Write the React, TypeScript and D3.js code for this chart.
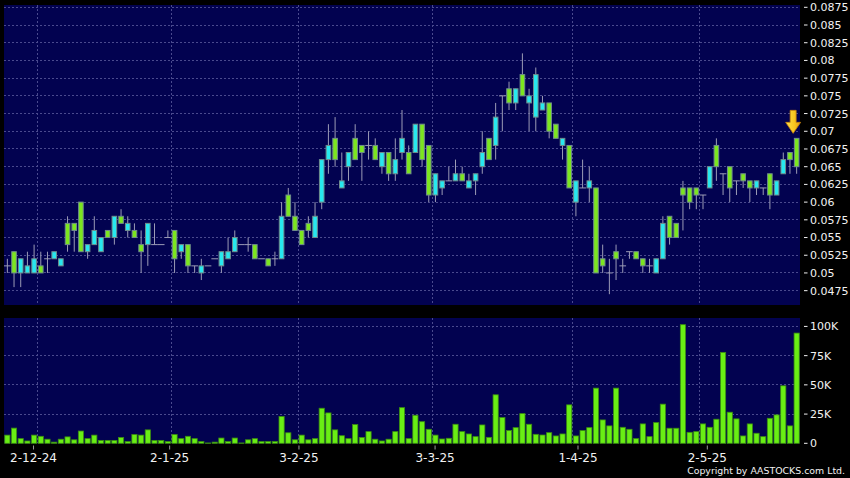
import React from "react";
import * as d3 from "d3";

// ---- data ----
const opens = [
  0.051, 0.053, 0.05, 0.05, 0.05, 0.051, 0.052, 0.052, 0.051, 0.057,
  0.057, 0.06, 0.053, 0.054, 0.053, 0.056, 0.055, 0.058, 0.056, 0.056,
  0.054, 0.054, 0.054, 0.054, 0.055, 0.056, 0.053, 0.054, 0.051, 0.05,
  0.051, 0.052, 0.051, 0.052, 0.053, 0.054, 0.054, 0.054, 0.052, 0.052,
  0.052, 0.052, 0.061, 0.058, 0.056, 0.057, 0.055, 0.06, 0.066, 0.069,
  0.062, 0.065, 0.069, 0.068, 0.068, 0.068, 0.065, 0.067, 0.064, 0.067,
  0.067, 0.067, 0.071, 0.068, 0.061, 0.062, 0.063, 0.063, 0.064, 0.062,
  0.063, 0.065, 0.069, 0.068, 0.075, 0.076, 0.074, 0.078, 0.074, 0.072,
  0.073, 0.074, 0.071, 0.068, 0.068, 0.06, 0.062, 0.062, 0.062, 0.052,
  0.05, 0.053, 0.051, 0.053, 0.053, 0.052, 0.051, 0.05, 0.052, 0.058,
  0.057, 0.062, 0.062, 0.062, 0.061, 0.062, 0.068, 0.064, 0.065, 0.063,
  0.064, 0.063, 0.062, 0.062, 0.064, 0.061, 0.064, 0.067, 0.069,
];
const highs = [
  0.052, 0.053, 0.052, 0.053, 0.054, 0.053, 0.053, 0.053, 0.052, 0.058,
  0.057, 0.06, 0.054, 0.058, 0.055, 0.056, 0.058, 0.059, 0.058, 0.057,
  0.056, 0.057, 0.057, 0.054, 0.056, 0.056, 0.054, 0.054, 0.051, 0.052,
  0.051, 0.052, 0.053, 0.055, 0.056, 0.054, 0.055, 0.054, 0.052, 0.052,
  0.053, 0.06, 0.062, 0.06, 0.056, 0.058, 0.06, 0.066, 0.071, 0.072,
  0.067, 0.067, 0.071, 0.068, 0.07, 0.069, 0.067, 0.067, 0.069, 0.073,
  0.068, 0.071, 0.071, 0.068, 0.064, 0.063, 0.065, 0.066, 0.065, 0.064,
  0.064, 0.07, 0.069, 0.074, 0.075, 0.077, 0.076, 0.081, 0.076, 0.079,
  0.075, 0.074, 0.071, 0.069, 0.068, 0.063, 0.066, 0.065, 0.062, 0.054,
  0.052, 0.054, 0.052, 0.053, 0.053, 0.052, 0.052, 0.052, 0.058, 0.058,
  0.057, 0.063, 0.062, 0.062, 0.061, 0.065, 0.069, 0.064, 0.065, 0.063,
  0.064, 0.063, 0.063, 0.062, 0.064, 0.063, 0.067, 0.067, 0.069,
];
const lows = [
  0.05, 0.048, 0.048, 0.05, 0.05, 0.05, 0.05, 0.052, 0.051, 0.053,
  0.053, 0.053, 0.052, 0.054, 0.053, 0.055, 0.054, 0.057, 0.055, 0.055,
  0.05, 0.051, 0.054, 0.054, 0.055, 0.05, 0.052, 0.05, 0.05, 0.049,
  0.051, 0.052, 0.05, 0.052, 0.053, 0.054, 0.053, 0.052, 0.052, 0.051,
  0.051, 0.052, 0.058, 0.056, 0.054, 0.055, 0.055, 0.059, 0.064, 0.065,
  0.062, 0.063, 0.066, 0.063, 0.066, 0.066, 0.064, 0.063, 0.063, 0.066,
  0.064, 0.067, 0.065, 0.06, 0.06, 0.061, 0.063, 0.063, 0.063, 0.062,
  0.061, 0.064, 0.066, 0.066, 0.07, 0.073, 0.073, 0.075, 0.07, 0.07,
  0.073, 0.069, 0.069, 0.066, 0.062, 0.058, 0.062, 0.06, 0.05, 0.05,
  0.047, 0.049, 0.05, 0.052, 0.052, 0.05, 0.05, 0.05, 0.052, 0.054,
  0.055, 0.056, 0.059, 0.059, 0.059, 0.062, 0.063, 0.061, 0.06, 0.061,
  0.062, 0.06, 0.061, 0.061, 0.059, 0.061, 0.064, 0.064, 0.064,
];
const closes = [
  0.051, 0.05, 0.052, 0.051, 0.052, 0.05, 0.052, 0.053, 0.052, 0.054,
  0.056, 0.053, 0.054, 0.056, 0.055, 0.055, 0.058, 0.057, 0.057, 0.055,
  0.053, 0.057, 0.054, 0.054, 0.055, 0.052, 0.054, 0.051, 0.051, 0.051,
  0.051, 0.052, 0.053, 0.053, 0.055, 0.054, 0.054, 0.052, 0.052, 0.051,
  0.052, 0.058, 0.058, 0.056, 0.054, 0.056, 0.058, 0.066, 0.068, 0.066,
  0.063, 0.067, 0.066, 0.067, 0.068, 0.066, 0.067, 0.064, 0.066, 0.069,
  0.064, 0.071, 0.066, 0.061, 0.064, 0.063, 0.063, 0.064, 0.063, 0.063,
  0.064, 0.067, 0.066, 0.072, 0.075, 0.074, 0.076, 0.075, 0.075, 0.078,
  0.074, 0.07, 0.069, 0.069, 0.062, 0.063, 0.062, 0.063, 0.05, 0.051,
  0.05, 0.052, 0.051, 0.053, 0.052, 0.051, 0.051, 0.052, 0.057, 0.055,
  0.055, 0.061, 0.06, 0.061, 0.061, 0.065, 0.065, 0.064, 0.062, 0.063,
  0.063, 0.062, 0.063, 0.062, 0.061, 0.063, 0.066, 0.066, 0.065,
];
// volume in thousands of shares
const volumesK = [
  7, 13, 4, 2, 7, 6, 3.5, 1, 3.5, 5.5,
  3, 10.5, 4, 7, 2.5, 2.5, 2.5, 5, 1.5, 7.5,
  7, 11.5, 2.5, 2.5, 1.5, 7.5, 4, 6, 4, 1.5,
  0.3, 1, 4.5, 1.5, 4.5, 0.3, 3, 4, 1.5, 1.5,
  1.5, 23, 9, 3, 7, 3, 4, 30, 26, 11.5,
  6.5, 4, 16, 5, 10, 3.5, 2, 3.5, 10, 30.5,
  4, 24, 18.5, 12, 7, 3.7, 4.3, 16.3, 10, 8,
  5.7, 15.7, 5.1, 41.5, 22, 10.9, 13.4, 25.4, 16.3, 7.7,
  7.1, 9.1, 6.3, 8, 32.9, 6.3, 10.9, 13.4, 47.2, 20,
  14.9, 47.2, 13.7, 12, 4, 16.6, 5.7, 17.7, 33.5, 12.9,
  12.9, 101.5, 9.4, 10, 16.6, 13.7, 20.6, 77.8, 26.6, 20.9,
  6.3, 16.6, 8.6, 5.7, 21.4, 24.3, 49.2, 14.9, 94.3,
];
const dateTickLabels = ["2-12-24", "2-1-25", "3-2-25", "3-3-25", "1-4-25", "2-5-25"];
const dateTickIndex = [4, 24, 43, 63, 84, 103];
const priceTicks = [
  0.0475, 0.05, 0.0525, 0.055, 0.0575, 0.06, 0.0625, 0.065, 0.0675,
  0.07, 0.0725, 0.075, 0.0775, 0.08, 0.0825, 0.085, 0.0875,
];
const volumeTicks = [0, 25000, 50000, 75000, 100000];
const volumeTickLabels = ["0", "25K", "50K", "75K", "100K"];

// ---- layout ----
const W = 850;
const H = 478;
const plotL = 4;
const plotR = 800;
const priceTop = 5;
const priceBot = 305;
const volTop = 318;
const volBot = 443.3;

const BG = "#000000";
const PANEL = "#020250";
const GRID = "#4a4a8e";
const UP = "#27e8ef";
const DOWN = "#7ce61f";
const BODY_STROKE = "#6f8c8c";
const WICK = "#9c9cb6";
const VOL = "#69ee14";
const VOL_STROKE = "#3b8c12";
const TEXT = "#f2f2f2";
const FONT = "DejaVu Sans, Verdana, sans-serif";

export default function App() {
  const n = opens.length;
  const idx = d3.range(n);
  const x = d3.scaleBand<number>().domain(idx).range([plotL, plotR]).padding(0);
  const bw = x.bandwidth();
  const cx = (i: number) => (x(i) as number) + bw / 2;
  const y = d3.scaleLinear().domain([0.045476, 0.087825]).range([priceBot, priceTop]);
  const yv = d3.scaleLinear().domain([0, 107200]).range([volBot, volTop]);
  // date labels on the time axis are laid out on a slightly wider linear scale
  const xl = d3.scaleLinear().domain([0, n - 1]).range([plotL + 2.3, plotR + 9.4]);

  const bodyW = 4.6;
  const volW = 5.2;

  const last = n - 1;
  const ax = cx(last) - 3.5;
  const ty = y(highs[last]) - 5;

  return (
    <svg
      width={W}
      height={H}
      style={{ position: "fixed", left: 0, top: 0, display: "block" }}
      fontFamily={FONT}
    >
      <defs>
        <linearGradient id="arrowGrad" x1="0" y1="0" x2="1" y2="0">
          <stop offset="0" stopColor="#ffe04a" />
          <stop offset="0.6" stopColor="#f8c41e" />
          <stop offset="1" stopColor="#e39610" />
        </linearGradient>
      </defs>
      <rect x={0} y={0} width={W} height={H} fill={BG} />
      <rect x={plotL} y={priceTop} width={plotR - plotL} height={priceBot - priceTop} fill={PANEL} />
      <rect x={plotL} y={volTop} width={plotR - plotL} height={volBot - volTop} fill={PANEL} />

      {/* grid */}
      <g shapeRendering="crispEdges">
        {priceTicks.map((v) => (
          <line key={"pg" + v} x1={plotL} x2={plotR} y1={y(v)} y2={y(v)} stroke={GRID} strokeDasharray="2,2" />
        ))}
        {volumeTicks.slice(1).map((v) => (
          <line key={"vg" + v} x1={plotL} x2={plotR} y1={yv(v)} y2={yv(v)} stroke={GRID} strokeDasharray="2,2" />
        ))}
        {dateTickIndex.map((i) => {
          const gx = (x(i) as number) + bw;
          return (
            <g key={"vgrid" + i}>
              <line x1={gx} x2={gx} y1={priceTop} y2={priceBot} stroke={GRID} strokeDasharray="2,2" />
              <line x1={gx} x2={gx} y1={volTop} y2={volBot} stroke={GRID} strokeDasharray="2,2" />
            </g>
          );
        })}
      </g>

      {/* candles */}
      <g>
        {idx.map((i) => {
          const o = opens[i];
          const c = closes[i];
          const xc = cx(i);
          const wick = (
            <line x1={xc} x2={xc} y1={y(highs[i])} y2={y(lows[i])} stroke={WICK} strokeWidth={1} />
          );
          if (Math.abs(o - c) < 1e-9) {
            return (
              <g key={"c" + i}>
                {wick}
                <line x1={xc - bw / 2} x2={xc + bw / 2} y1={y(o)} y2={y(o)} stroke={WICK} strokeWidth={1} />
              </g>
            );
          }
          const up = c > o;
          const top = y(Math.max(o, c));
          const bot = y(Math.min(o, c));
          return (
            <g key={"c" + i}>
              {wick}
              <rect
                x={xc - bodyW / 2}
                y={top}
                width={bodyW}
                height={bot - top}
                fill={up ? UP : DOWN}
                stroke={BODY_STROKE}
                strokeWidth={1}
              />
            </g>
          );
        })}
      </g>

      {/* arrow marker on last candle */}
      <path
        d={`M${ax - 3},${ty - 23} L${ax + 3},${ty - 23} L${ax + 3},${ty - 11} L${ax + 7.5},${ty - 11} L${ax},${ty} L${ax - 7.5},${ty - 11} L${ax - 3},${ty - 11} Z`}
        fill="url(#arrowGrad)"
        stroke="#c47f0c"
        strokeWidth={0.8}
      />

      {/* volume bars */}
      <g>
        {idx.map((i) => {
          const v = volumesK[i] * 1000;
          const yt = yv(v);
          return (
            <rect
              key={"v" + i}
              x={cx(i) - volW / 2}
              y={yt}
              width={volW}
              height={Math.max(0, volBot - yt)}
              fill={VOL}
              stroke={VOL_STROKE}
              strokeWidth={0.8}
            />
          );
        })}
      </g>

      {/* right axis */}
      <g fontSize={11} fill={TEXT}>
        {priceTicks.map((v) => (
          <g key={"pt" + v}>
            <line x1={804} x2={807.5} y1={y(v)} y2={y(v)} stroke={TEXT} strokeWidth={1} />
            <text x={810} y={y(v)} dy="0.36em">
              {String(+v.toFixed(4))}
            </text>
          </g>
        ))}
        {volumeTicks.map((v, k) => (
          <g key={"vt" + v}>
            <line x1={804} x2={807.5} y1={yv(v)} y2={yv(v)} stroke={TEXT} strokeWidth={1} />
            <text x={810} y={yv(v)} dy="0.36em">
              {volumeTickLabels[k]}
            </text>
          </g>
        ))}
      </g>

      {/* bottom date axis */}
      <g fontSize={12} fill={TEXT}>
        {dateTickIndex.map((i, k) => (
          <g key={"dt" + i}>
            <line x1={xl(i)} x2={xl(i)} y1={445.5} y2={449.5} stroke="#9a9a9a" strokeWidth={1} />
            <text x={xl(i)} y={462} textAnchor="middle">
              {dateTickLabels[k]}
            </text>
          </g>
        ))}
      </g>

      <text x={845} y={473.5} textAnchor="end" fontSize={9.4} fill={TEXT}>
        Copyright by AASTOCKS.com Ltd.
      </text>
    </svg>
  );
}
